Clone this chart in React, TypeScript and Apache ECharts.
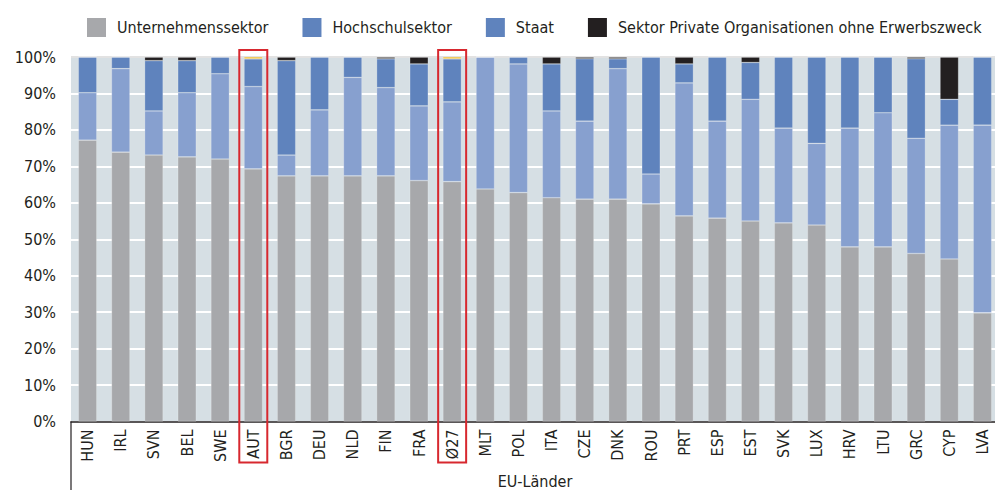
import React, { useEffect, useRef } from "react";
import * as echarts from "echarts";

const countries = ["HUN", "IRL", "SVN", "BEL", "SWE", "AUT", "BGR", "DEU", "NLD", "FIN", "FRA", "Ø27", "MLT", "POL", "ITA", "CZE", "DNK", "ROU", "PRT", "ESP", "EST", "SVK", "LUX", "HRV", "LTU", "GRC", "CYP", "LVA"];
const business = [77.2, 73.9, 73.1, 72.6, 72.0, 69.3, 67.4, 67.4, 67.4, 67.4, 66.1, 65.8, 63.8, 62.8, 61.4, 61.0, 61.0, 59.7, 56.4, 55.8, 55.0, 54.5, 53.9, 47.9, 47.9, 46.1, 44.6, 29.8];
const higherEducation = [13.0, 22.9, 12.1, 17.6, 23.4, 22.6, 5.7, 18.1, 27.0, 24.2, 20.5, 21.9, 36.2, 35.3, 23.8, 21.4, 35.8, 8.2, 36.5, 26.6, 33.4, 26.0, 22.4, 32.6, 36.8, 31.6, 36.7, 51.5];
const government = [9.8, 3.2, 13.8, 8.8, 4.6, 7.6, 25.9, 14.5, 5.6, 7.9, 11.5, 11.8, 0, 1.9, 12.9, 17.1, 2.7, 32.1, 5.2, 17.6, 10.1, 19.5, 23.7, 19.5, 15.3, 21.8, 7.1, 18.7];
const privateNonProfit = [0, 0, 1.0, 1.0, 0, 0, 1.0, 0, 0, 0.5, 1.9, 0, 0, 0, 1.9, 0.5, 0.5, 0, 1.9, 0, 1.5, 0, 0, 0, 0, 0.5, 11.6, 0];
const other = [0, 0, 0, 0, 0, 0.5, 0, 0, 0, 0, 0, 0.5, 0, 0, 0, 0, 0, 0, 0, 0, 0, 0, 0, 0, 0, 0, 0, 0];
const highlighted = ["AUT", "Ø27"];
const seriesNames = ["Unternehmenssektor", "Hochschulsektor", "Staat", "Sektor Private Organisationen ohne Erwerbszweck"];
const yMax = 100;
const yStep = 10;

const FONT = "'Liberation Sans Narrow', 'DejaVu Sans Condensed', 'Roboto Condensed', sans-serif";
const TXT = "#231f20";

export default function App() {
  const ref = useRef<HTMLDivElement>(null);
  useEffect(() => {
    document.body.style.margin = "0";
    const chart = echarts.init(ref.current!, null, { renderer: "svg" });
    const barStyle = (color: string) => ({ color, borderColor: "rgba(255,255,255,0.35)", borderWidth: 0.6 });
    const mk = (name: string, data: number[], color: string) => ({
      name,
      type: "bar",
      stack: "total",
      data,
      barWidth: 18.5,
      itemStyle: barStyle(color),
      emphasis: { disabled: true },
    });
    const splitColors = Array.from({ length: yMax / yStep + 1 }, (_, i) => (i === yMax / yStep ? "#e2e2e2" : "#ffffff"));
    chart.setOption({
      animation: false,
      textStyle: { fontFamily: FONT },
      legend: {
        left: 82,
        top: 13,
        width: 910,
        itemWidth: 19,
        itemHeight: 19,
        itemGap: 34,
        icon: "rect",
        textStyle: { fontFamily: FONT, fontSize: 16, color: TXT, padding: [0, 0, 0, 6] },
        data: [
          { name: seriesNames[0], itemStyle: { color: "#a7a8ab", borderWidth: 0 } },
          { name: seriesNames[1], itemStyle: { color: "#5f83bd", borderWidth: 0 } },
          { name: seriesNames[2], itemStyle: { color: "#5f83bd", borderWidth: 0 } },
          { name: seriesNames[3], itemStyle: { color: "#231f20", borderWidth: 0 } },
        ],
      },
      grid: {
        left: 71,
        top: 57,
        width: 928,
        height: 364.5,
        show: true,
        backgroundColor: "#d6dfe4",
        borderWidth: 0,
        containLabel: false,
        outerBoundsMode: "none",
      },
      xAxis: {
        type: "category",
        data: countries,
        axisTick: { show: false },
        axisLine: { lineStyle: { color: "#231f20", width: 1.5 } },
        axisLabel: { rotate: 90, fontSize: 16, color: TXT, fontFamily: FONT, margin: 8, interval: 0 },
        name: "EU-Länder",
        nameLocation: "middle",
        nameGap: 52,
        nameMoveOverlap: false,
        nameTextStyle: { fontSize: 16, color: TXT, fontFamily: FONT, verticalAlign: "top" },
      },
      yAxis: {
        type: "value",
        min: 0,
        max: yMax,
        interval: yStep,
        axisLabel: { formatter: "{value}%", fontSize: 16, color: TXT, fontFamily: FONT, margin: 15 },
        axisLine: { show: false },
        axisTick: { show: false },
        splitLine: { lineStyle: { color: splitColors, width: 2 } },
      },
      series: [
        mk(seriesNames[0], business, "#a7a8ab"),
        mk(seriesNames[1], higherEducation, "#87a0cf"),
        mk(seriesNames[2], government, "#5f83bd"),
        mk(seriesNames[3], privateNonProfit, "#231f20"),
        mk("Sonstige", other, "#f5b400"),
      ],
    });
    const p0 = chart.convertToPixel({ xAxisIndex: 0, yAxisIndex: 0 }, [0, 0]) as number[];
    const p1 = chart.convertToPixel({ xAxisIndex: 0, yAxisIndex: 0 }, [1, yMax]) as number[];
    const band = p1[0] - p0[0];
    const leftX = p0[0] - band / 2;
    const graphics: any[] = [
      { type: "line", shape: { x1: leftX, y1: p0[1], x2: leftX, y2: 490 }, style: { stroke: "#231f20", lineWidth: 1.2 }, z: 50 },
    ];
    highlighted.forEach((c) => {
      const idx = countries.indexOf(c);
      const pt = chart.convertToPixel({ xAxisIndex: 0, yAxisIndex: 0 }, [idx, yMax]) as number[];
      const pb = chart.convertToPixel({ xAxisIndex: 0, yAxisIndex: 0 }, [idx, 0]) as number[];
      graphics.push({
        type: "rect",
        shape: { x: pt[0] - 14, y: pt[1] - 7, width: 28, height: pb[1] - pt[1] + 48 },
        style: { fill: "none", stroke: "#d7282f", lineWidth: 2 },
        z: 100,
      });
    });
    chart.setOption({ graphic: graphics });
    return () => chart.dispose();
  }, []);
  return <div ref={ref} style={{ position: "absolute", left: 0, top: 0, width: 995, height: 490 }} />;
}
